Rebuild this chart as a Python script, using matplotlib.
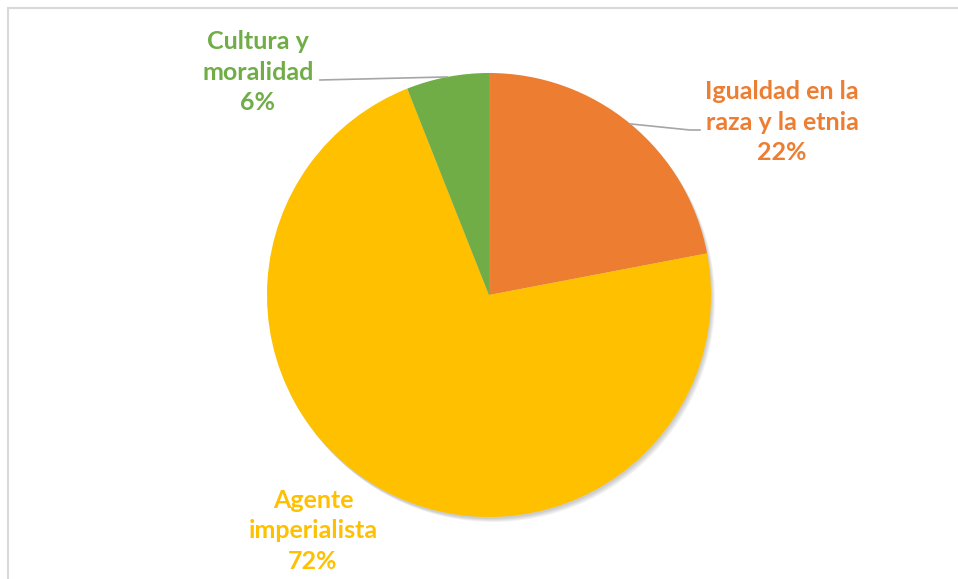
import numpy as np
import matplotlib.pyplot as plt
from matplotlib.patches import Rectangle

# share of each category, clockwise from 12 o'clock
categories = ["Igualdad en la\nraza y la etnia", "Agente\nimperialista", "Cultura y\nmoralidad"]
shares = [22, 72, 6]
colors = ["#ED7D31", "#FFC000", "#70AD47"]

W, H = 958, 579
fig = plt.figure(figsize=(W / 100, H / 100), dpi=100)
ax = fig.add_axes([0, 0, 1, 1])

# chart frame
ax.add_patch(Rectangle((8.5, -5), W, H - 7.5 + 5, fill=False, edgecolor="#D9D9D9", linewidth=1.5))

cx, cy, r = 489, H - 295, 222

# soft drop shadow under the pie
for k in range(4):
    ax.add_patch(plt.Circle((cx + 1 + k, cy - 2 - k), r, color="black", alpha=0.05, linewidth=0, zorder=0))

wedges, _ = ax.pie(shares, colors=colors, startangle=90, counterclock=False,
                   center=(cx, cy), radius=r, wedgeprops=dict(linewidth=0), frame=True)
ax.set_xlim(0, W)
ax.set_ylim(0, H)
ax.set_aspect("equal")
ax.axis("off")

font = dict(family=["Lato", "DejaVu Sans"], fontsize=18, fontweight="bold",
            ha="center", va="center", linespacing=1.42)

# label centres and the point where each leader line meets the text
label_pos = [(782, H - 122), (313, H - 531), (258, H - 72)]
leader_end = [(700, H - 130), None, (320, H - 80)]

for w, cat, val, col, pos, end in zip(wedges, categories, shares, colors, label_pos, leader_end):
    ax.text(pos[0], pos[1], f"{cat}\n{val}%", color=col, **font)
    if end is not None:
        mid = np.deg2rad((w.theta1 + w.theta2) / 2)
        px, py = cx + r * np.cos(mid), cy + r * np.sin(mid)
        if end[0] > cx:
            xs, ys = [px, end[0] - 10, end[0]], [py, end[1], end[1]]
        else:
            xs, ys = [px, end[0]], [py, end[1]]
        ax.plot(xs, ys, color="#A6A6A6", linewidth=1.2, zorder=3)

fig.savefig("out.png", dpi=100)
